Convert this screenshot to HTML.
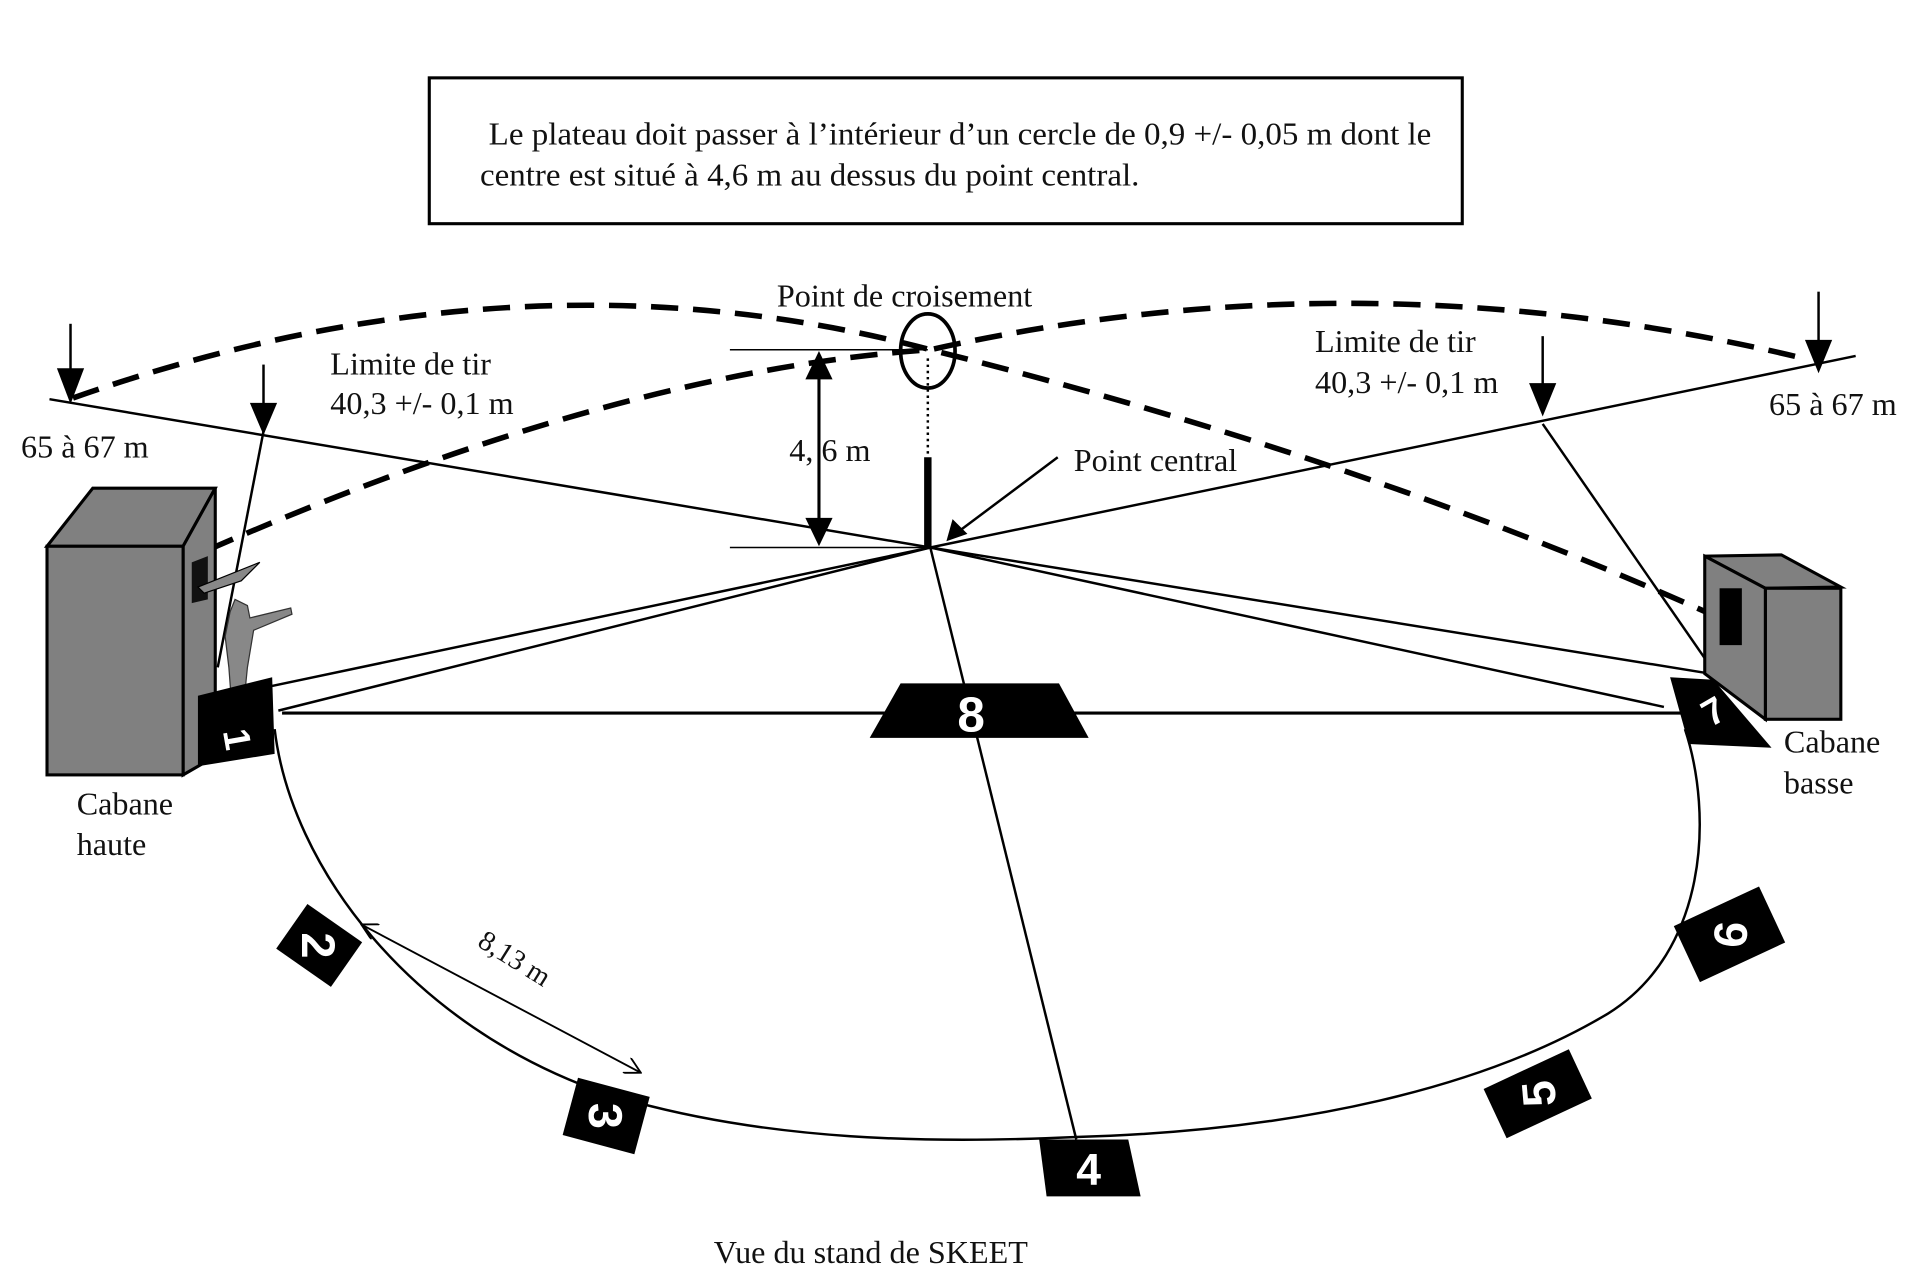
<!DOCTYPE html>
<html><head><meta charset="utf-8"><style>
html,body{margin:0;padding:0;background:#fff}
svg{display:block}
text{font-family:"Liberation Serif",serif;fill:#111}
</style></head><body>
<svg width="1920" height="1268" viewBox="0 0 1552 1026" preserveAspectRatio="none" xmlns="http://www.w3.org/2000/svg">
<defs>
<marker id="oa" markerWidth="14" markerHeight="14" refX="13" refY="7" orient="auto" markerUnits="userSpaceOnUse"><path d="M0,0 L13,7 L0,14" fill="none" stroke="#000" stroke-width="1.5"/></marker>
<marker id="oa2" markerWidth="14" markerHeight="14" refX="13" refY="7" orient="auto-start-reverse" markerUnits="userSpaceOnUse"><path d="M0,0 L13,7 L0,14" fill="none" stroke="#000" stroke-width="1.5"/></marker>
</defs>
<rect x="347" y="63" width="835" height="118" fill="#fff" stroke="#000" stroke-width="2.5"/>
<text x="395" y="117" font-size="26" textLength="762" lengthAdjust="spacingAndGlyphs">Le plateau doit passer à l’intérieur d’un cercle de 0,9 +/- 0,05 m dont le</text>
<text x="388" y="150" font-size="26" textLength="533" lengthAdjust="spacingAndGlyphs">centre est situé à 4,6 m au dessus du point central.</text>

<g stroke="#000" stroke-width="2" fill="none">
<line x1="40" y1="323" x2="752" y2="443"/>
<line x1="752" y1="443" x2="1500" y2="288"/>
<line x1="220" y1="555" x2="752" y2="443"/>
<line x1="225" y1="575" x2="752" y2="443"/>
<line x1="1382" y1="545" x2="752" y2="443"/>
<line x1="1345" y1="572" x2="752" y2="443"/>
<line x1="752" y1="443" x2="870" y2="922"/>
<line x1="228" y1="577" x2="1360" y2="577" stroke-width="2.5"/>
<line x1="213" y1="349" x2="176" y2="540"/>
<line x1="1247" y1="343" x2="1390" y2="550"/>
<path d="M222,590 C235,700 330,830 490,885 C620,925 760,925 870,920 C1050,915 1200,880 1300,820 C1380,770 1385,660 1362,590"/>
</g>

<g stroke="#000" stroke-width="4.5" fill="none" stroke-dasharray="22,12">
<path d="M59,322 Q420,195 752,283 Q1100,370 1383,497"/>
<path d="M168,445 Q500,300 752,283 Q1100,205 1454,289"/>
</g>

<g stroke="#000" stroke-width="2">
<line x1="57" y1="262" x2="57" y2="300"/><line x1="213" y1="295" x2="213" y2="328"/>
<line x1="1247" y1="272" x2="1247" y2="312"/><line x1="1470" y1="236" x2="1470" y2="277"/>
</g>
<g fill="#000">
<path d="M46,298 L68,298 L57,327 z"/><path d="M202,326 L224,326 L213,352 z"/>
<path d="M1236,310 L1258,310 L1247,337 z"/><path d="M1459,275 L1481,275 L1470,302 z"/>
</g>

<g stroke="#000" stroke-width="1.2">
<line x1="590" y1="283" x2="750" y2="283"/><line x1="590" y1="443" x2="750" y2="443"/>
</g>
<line x1="662" y1="305" x2="662" y2="421" stroke="#000" stroke-width="2.5"/>
<path d="M651,307 L673,307 L662,284 z M651,419 L673,419 L662,442 z" fill="#000"/>
<ellipse cx="750" cy="284" rx="22" ry="30" fill="none" stroke="#000" stroke-width="3"/>
<line x1="750" y1="290" x2="750" y2="370" stroke="#000" stroke-width="2" stroke-dasharray="2,3"/>
<line x1="750" y1="370" x2="750" y2="443" stroke="#000" stroke-width="6"/>
<line x1="855" y1="370" x2="775" y2="430" stroke="#000" stroke-width="2"/>
<path d="M765,438 L770,420 L782,432 z" fill="#000"/>

<g stroke="#000" stroke-width="2.5" fill="#808080">
<polygon points="38,442 75,395 174,395 148,442"/>
<polygon points="148,442 174,395 174,612 148,627"/>
<rect x="38" y="442" width="110" height="185"/>
</g>
<polygon points="155,455 168,450 168,485 155,488" fill="#111"/>
<polygon points="160,475 210,455 195,470 165,480" fill="#888" stroke="#000"/>
<path d="M190,485 L200,490 L202,500 L235,492 L236,497 L205,510 L200,540 L196,580 L188,580 L185,540 L182,515 L186,495 z" fill="#888" stroke="#333" stroke-width="1"/>
<polygon points="160,563 220,548 222,610 160,620" fill="#000"/>
<text x="190" y="600" font-size="30" transform="rotate(80 190 590)" style="fill:#fff;font-family:'Liberation Sans',sans-serif;font-weight:bold">1</text>

<g stroke="#000" stroke-width="2.5" fill="#808080">
<polygon points="1378,450 1440,449 1488,475 1427,476"/>
<rect x="1427" y="476" width="61" height="106"/>
<polygon points="1378,450 1427,476 1427,582 1378,545"/>
</g>
<rect x="1390" y="476" width="18" height="46" fill="#000"/>
<polygon points="1350,548 1385,550 1432,605 1365,602" fill="#000"/>
<text x="1378" y="590" font-size="30" style="fill:#fff;font-family:'Liberation Sans',sans-serif;font-weight:bold" transform="rotate(-30 1378 580)">7</text>

<polygon points="703,597 728,553 856,553 880,597" fill="#000"/>
<text x="785" y="592" font-size="40" style="fill:#fff;font-family:'Liberation Sans',sans-serif;font-weight:bold" text-anchor="middle">8</text>

<g transform="translate(258,765) rotate(35)"><rect x="-27" y="-22" width="54" height="44" fill="#000"/><text x="0" y="14" font-size="38" text-anchor="middle" style="fill:#fff;font-family:'Liberation Sans',sans-serif;font-weight:bold" transform="rotate(55)">2</text></g>
<g transform="translate(490,903) rotate(15)"><rect x="-30" y="-24" width="60" height="48" fill="#000"/><text x="0" y="14" font-size="38" text-anchor="middle" style="fill:#fff;font-family:'Liberation Sans',sans-serif;font-weight:bold" transform="rotate(75)">3</text></g>
<polygon points="840,922 912,922 922,968 846,968" fill="#000"/>
<text x="880" y="959" font-size="36" text-anchor="middle" style="fill:#fff;font-family:'Liberation Sans',sans-serif;font-weight:bold">4</text>
<g transform="translate(1243,885) rotate(-25)"><rect x="-38" y="-22" width="76" height="44" fill="#000"/><text x="0" y="14" font-size="38" text-anchor="middle" style="fill:#fff;font-family:'Liberation Sans',sans-serif;font-weight:bold" transform="rotate(-70)">5</text></g>
<g transform="translate(1398,756) rotate(-25)"><rect x="-38" y="-25" width="76" height="50" fill="#000"/><text x="0" y="14" font-size="38" text-anchor="middle" style="fill:#fff;font-family:'Liberation Sans',sans-serif;font-weight:bold" transform="rotate(-60)">6</text></g>

<line x1="292" y1="748" x2="518" y2="868" stroke="#000" stroke-width="1.5" marker-start="url(#oa2)" marker-end="url(#oa)"/>
<text x="385" y="765" font-size="23" transform="rotate(32 385 765)">8,13 m</text>

<g font-size="26">
<text x="17" y="370">65 à 67 m</text>
<text x="267" y="303">Limite de tir</text>
<text x="267" y="335">40,3 +/- 0,1 m</text>
<text x="628" y="248">Point de croisement</text>
<text x="1063" y="285">Limite de tir</text>
<text x="1063" y="318">40,3 +/- 0,1 m</text>
<text x="1430" y="336">65 à 67 m</text>
<text x="638" y="373">4, 6 m</text>
<text x="868" y="381">Point central</text>
<text x="62" y="659">Cabane</text>
<text x="62" y="692">haute</text>
<text x="1442" y="609">Cabane</text>
<text x="1442" y="642">basse</text>
<text x="577" y="1022">Vue du stand de SKEET</text>
</g>
</svg>
</body></html>
